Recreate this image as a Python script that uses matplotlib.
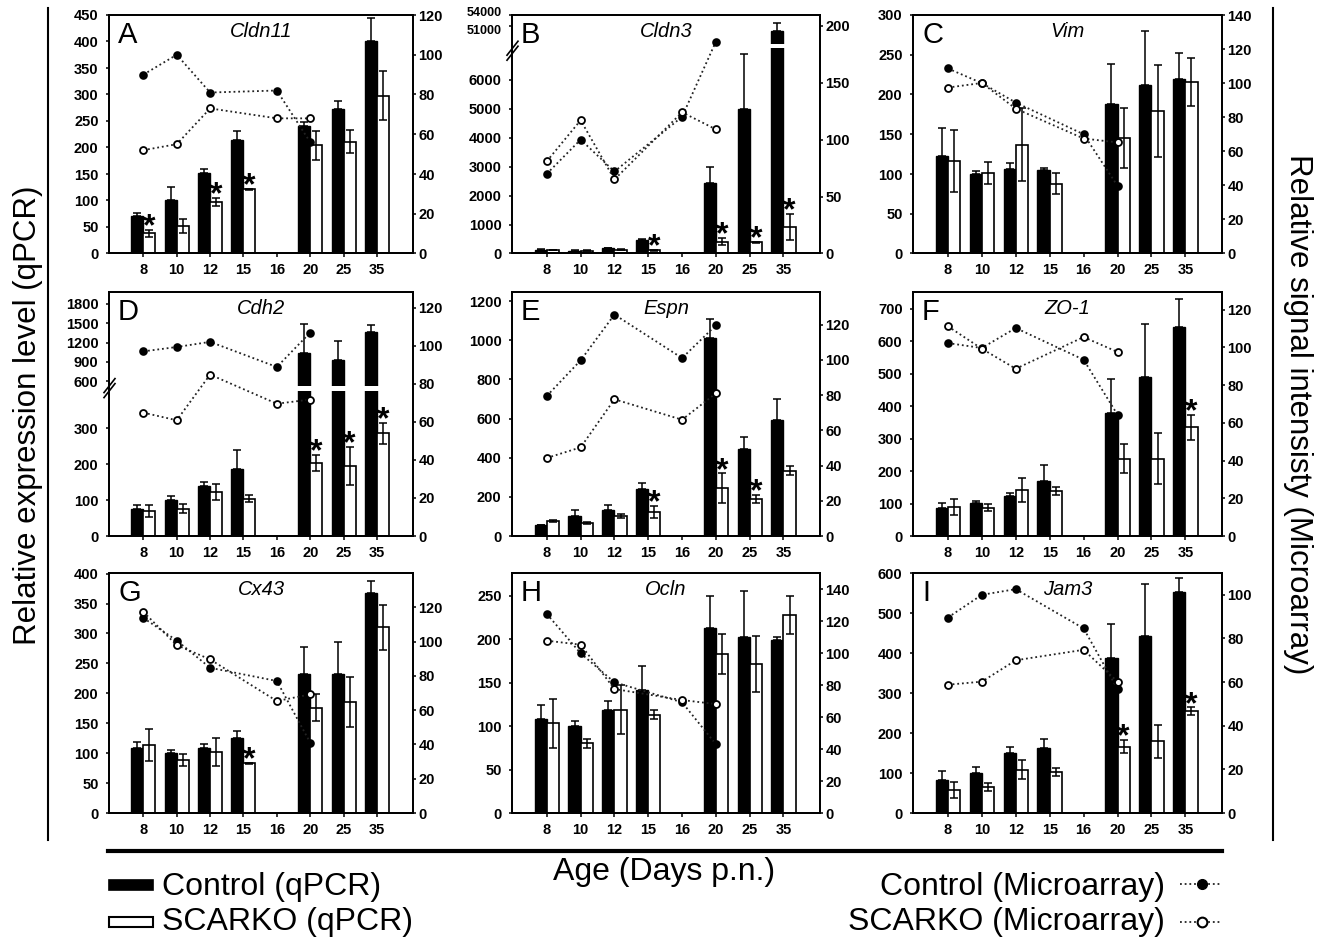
import numpy as np
import matplotlib
matplotlib.use("Agg")
import matplotlib.pyplot as plt
import matplotlib.transforms as mtransforms
from matplotlib.patches import Rectangle
from matplotlib.lines import Line2D

plt.rcParams['font.family'] = ['Liberation Sans', 'DejaVu Sans']

W, H = 1321, 938
N = np.nan

# ---------------- data ----------------
days = ["8", "10", "12", "15", "16", "20", "25", "35"]
array_days = ["8", "10", "12", "16", "20"]

# A Cldn11
cldn11_ctrl = [70, 100, 152, 215, N, 240, 272, 400]
cldn11_ctrl_err = [7, 25, 8, 16, N, 8, 16, 44]
cldn11_ko = [38, 52, 97, 121, N, 204, 211, 298]
cldn11_ko_err = [7, 13, 8, 1, N, 27, 22, 46]
cldn11_sig = [1, 0, 1, 1, 0, 0, 0, 0]
cldn11_arr_ctrl = [90, 100, 81, 82, 56]
cldn11_arr_ko = [52, 55, 73, 68, 68]

# B Cldn3
cldn3_ctrl = [130, 100, 180, 450, N, 2450, 4980, 49600]
cldn3_ctrl_err = [20, 15, 20, 60, N, 530, 1900, 2200]
cldn3_ko = [120, 100, 130, 110, N, 410, 380, 920]
cldn3_ko_err = [15, 10, 15, 10, N, 120, 30, 450]
cldn3_sig = [0, 0, 0, 1, 0, 1, 1, 1]
cldn3_arr_ctrl = [70, 100, 72, 120, 186]
cldn3_arr_ko = [81, 117, 65, 124, 109]

# C Vim
vim_ctrl = [123, 100, 106, 105, N, 188, 212, 220]
vim_ctrl_err = [35, 4, 8, 3, N, 50, 68, 32]
vim_ko = [116, 101, 137, 88, N, 145, 179, 216]
vim_ko_err = [39, 14, 46, 13, N, 38, 58, 30]
vim_sig = [0, 0, 0, 0, 0, 0, 0, 0]
vim_arr_ctrl = [108.6, 100, 88.6, 70, 39.7]
vim_arr_ko = [97.4, 100.1, 85, 67.5, 65.2]

# D Cdh2
cdh2_ctrl = [76, 101, 139, 185, N, 1040, 935, 1370]
cdh2_ctrl_err = [11, 10, 11, 53, N, 440, 290, 100]
cdh2_ko = [69, 76, 122, 104, N, 204, 194, 285]
cdh2_ko_err = [16, 13, 23, 9, N, 22, 53, 30]
cdh2_sig = [0, 0, 0, 0, 0, 1, 1, 1]
cdh2_arr_ctrl = [97, 99.3, 102, 88.8, 106.9]
cdh2_arr_ko = [64.8, 60.8, 84.8, 69.5, 71.7]

# E Espn
espn_ctrl = [55, 100, 134, 241, N, 1010, 445, 594]
espn_ctrl_err = [3, 34, 26, 31, N, 100, 63, 105]
espn_ko = [76, 66, 102, 122, N, 245, 190, 334]
espn_ko_err = [6, 3, 10, 32, N, 75, 20, 22]
espn_sig = [0, 0, 0, 1, 0, 1, 1, 0]
espn_arr_ctrl = [79.5, 99.7, 125.7, 101, 119.6]
espn_arr_ko = [44.3, 50.3, 77.6, 66, 81]

# F ZO-1
zo1_ctrl = [87, 102, 122, 169, N, 380, 490, 642]
zo1_ctrl_err = [16, 6, 11, 49, N, 104, 164, 86]
zo1_ko = [89, 87, 141, 138, N, 238, 238, 334]
zo1_ko_err = [25, 10, 36, 13, N, 44, 78, 38]
zo1_sig = [0, 0, 0, 0, 0, 0, 0, 1]
zo1_arr_ctrl = [102.3, 99.7, 110.3, 93.5, 64.3]
zo1_arr_ko = [111.2, 99.3, 88.7, 105.5, 97.6]

# G Cx43
cx43_ctrl = [108, 100, 108, 126, N, 232, 232, 367]
cx43_ctrl_err = [11, 5, 7, 11, N, 45, 54, 20]
cx43_ko = [114, 89, 102, 83, N, 176, 185, 310]
cx43_ko_err = [27, 10, 23, 1, N, 23, 42, 37]
cx43_sig = [0, 0, 0, 1, 0, 0, 0, 0]
cx43_arr_ctrl = [113.8, 100.6, 84.7, 77, 41]
cx43_arr_ko = [117.3, 97.9, 89.6, 65.3, 69.2]

# H Ocln
ocln_ctrl = [108, 100, 119, 142, N, 213, 202, 199]
ocln_ctrl_err = [16, 6, 10, 27, N, 36, 53, 3]
ocln_ko = [103, 80, 119, 113, N, 183, 171, 228]
ocln_ko_err = [28, 5, 28, 5, N, 23, 32, 22]
ocln_sig = [0, 0, 0, 0, 0, 0, 0, 0]
ocln_arr_ctrl = [124.4, 99.8, 81.7, 69.2, 43]
ocln_arr_ko = [107.7, 105.2, 77.5, 70.6, 68.1]

# I Jam3
jam3_ctrl = [83, 100, 149, 162, N, 387, 442, 552]
jam3_ctrl_err = [21, 14, 15, 23, N, 85, 130, 35]
jam3_ko = [57, 64, 108, 102, N, 166, 179, 254]
jam3_ko_err = [20, 10, 24, 10, N, 17, 41, 10]
jam3_sig = [0, 0, 0, 0, 0, 1, 0, 1]
jam3_arr_ctrl = [89.6, 100, 102.6, 84.6, 56.8]
jam3_arr_ko = [58.8, 60.2, 70, 74.8, 60.2]

# ---------------- layout ----------------
fig = plt.figure(figsize=(W / 100, H / 100), dpi=100)


def fx(x):
    return x / W


def fy(y):
    return 1 - y / H


def make_break(lo, mid_hi, gap, factor):
    def fwd(y):
        y = np.asarray(y, float)
        return np.where(y <= lo, y,
                        np.where(y <= mid_hi, lo + (y - lo) * gap / (mid_hi - lo),
                                 lo + gap + (y - mid_hi) * factor))

    def inv(t):
        t = np.asarray(t, float)
        return np.where(t <= lo, t,
                        np.where(t <= lo + gap, lo + (t - lo) * (mid_hi - lo) / gap,
                                 mid_hi + (t - lo - gap) / factor))
    return fwd, inv


cols = [(109, 413), (512, 820), (913, 1222)]
rows = [(15, 253.5), (292, 536), (573, 813)]

panels = [
    dict(letter="A", gene="Cldn11", d=(cldn11_ctrl, cldn11_ctrl_err, cldn11_ko, cldn11_ko_err, cldn11_sig, cldn11_arr_ctrl, cldn11_arr_ko),
         yl=(0, 450), yt=list(range(0, 451, 50)), yr=(0, 120), yrt=list(range(0, 121, 20))),
    dict(letter="B", gene="Cldn3", d=(cldn3_ctrl, cldn3_ctrl_err, cldn3_ko, cldn3_ko_err, cldn3_sig, cldn3_arr_ctrl, cldn3_arr_ko),
         yl=(0, 54000), yt=[0, 1000, 2000, 3000, 4000, 5000, 6000, 51000, 54000], yr=(0, 209.4), yrt=list(range(0, 201, 50)),
         brk=(7000, 44000, 7, 0.123), band=(44800, 45900)),
    dict(letter="C", gene="Vim", d=(vim_ctrl, vim_ctrl_err, vim_ko, vim_ko_err, vim_sig, vim_arr_ctrl, vim_arr_ko),
         yl=(0, 300), yt=list(range(0, 301, 50)), yr=(0, 140), yrt=list(range(0, 141, 20))),
    dict(letter="D", gene="Cdh2", d=(cdh2_ctrl, cdh2_ctrl_err, cdh2_ko, cdh2_ko_err, cdh2_sig, cdh2_arr_ctrl, cdh2_arr_ko),
         yl=(0, 1980), yt=[0, 100, 200, 300, 600, 900, 1200, 1500, 1800], yr=(0, 128.2), yrt=list(range(0, 121, 20)),
         brk=(410, 502, 2, 0.18), band=(402, 530)),
    dict(letter="E", gene="Espn", d=(espn_ctrl, espn_ctrl_err, espn_ko, espn_ko_err, espn_sig, espn_arr_ctrl, espn_arr_ko),
         yl=(0, 1247), yt=list(range(0, 1201, 200)), yr=(0, 138.5), yrt=list(range(0, 121, 20))),
    dict(letter="F", gene="ZO-1", d=(zo1_ctrl, zo1_ctrl_err, zo1_ko, zo1_ko_err, zo1_sig, zo1_arr_ctrl, zo1_arr_ko),
         yl=(0, 751), yt=list(range(0, 701, 100)), yr=(0, 129.4), yrt=list(range(0, 121, 20))),
    dict(letter="G", gene="Cx43", d=(cx43_ctrl, cx43_ctrl_err, cx43_ko, cx43_ko_err, cx43_sig, cx43_arr_ctrl, cx43_arr_ko),
         yl=(0, 401), yt=list(range(0, 401, 50)), yr=(0, 140), yrt=list(range(0, 121, 20))),
    dict(letter="H", gene="Ocln", d=(ocln_ctrl, ocln_ctrl_err, ocln_ko, ocln_ko_err, ocln_sig, ocln_arr_ctrl, ocln_arr_ko),
         yl=(0, 276), yt=list(range(0, 251, 50)), yr=(0, 150), yrt=list(range(0, 141, 20))),
    dict(letter="I", gene="Jam3", d=(jam3_ctrl, jam3_ctrl_err, jam3_ko, jam3_ko_err, jam3_sig, jam3_arr_ctrl, jam3_arr_ko),
         yl=(0, 600), yt=list(range(0, 601, 100)), yr=(0, 110), yrt=list(range(0, 101, 20))),
]

x = np.arange(len(days))
xa = np.array([days.index(d) for d in array_days])
bw = 0.36
SP = 1.3
TICK_FS = 10.5
DOT = (0, (1, 1.6))

for k, p in enumerate(panels):
    l, r = cols[k % 3]
    t, b = rows[k // 3]
    ax = fig.add_axes([fx(l), fy(b), (r - l) / W, (b - t) / H])
    ctrl, ctrl_err, ko, ko_err, sig, actrl, ako = [np.array(v, float) for v in p["d"]]

    if "brk" in p:
        fwd, inv = make_break(*p["brk"])
        ax.set_yscale("function", functions=(fwd, inv))

    ax.bar(x - bw / 2, ctrl, bw, color="black", edgecolor="black", linewidth=1.0, zorder=2)
    ax.bar(x + bw / 2, ko, bw, color="white", edgecolor="black", linewidth=1.2, zorder=2)
    ax.errorbar(x - bw / 2, ctrl, yerr=[np.zeros_like(ctrl_err), ctrl_err], fmt="none",
                ecolor="black", elinewidth=1.1, capsize=3, capthick=1.1, zorder=2.1)
    ax.errorbar(x + bw / 2, ko, yerr=ko_err, fmt="none",
                ecolor="black", elinewidth=1.1, capsize=3, capthick=1.1, zorder=2.1)

    if "band" in p:
        ax.axhspan(p["band"][0], p["band"][1], color="white", zorder=2.3, lw=0)

    for i in range(len(days)):
        if sig[i]:
            ax.annotate("*", xy=(x[i] + bw / 2, ko[i] + ko_err[i]), xytext=(0, -4),
                        textcoords="offset points", ha="center", va="baseline",
                        fontsize=23, fontweight="bold", zorder=4)

    ax.set_xlim(-1.03, 8.08)
    ax.set_ylim(*p["yl"])
    ax.set_xticks(x, labels=days, fontweight="bold", fontsize=TICK_FS)
    ax.set_yticks(p["yt"], labels=[str(v) for v in p["yt"]], fontweight="bold", fontsize=TICK_FS)
    ax.minorticks_off()
    ax.tick_params(axis="x", direction="out", length=3, width=1.1, pad=4)
    ax.tick_params(axis="y", direction="out", length=2.5, width=1.1, pad=5)
    for s in ax.spines.values():
        s.set_linewidth(SP)

    if p["letter"] == "B":
        # the two upper labels above the break sit very close: shrink and nudge them apart
        labs = ax.get_yticklabels()
        for lab, dy in ((labs[-2], -2.5), (labs[-1], 2.5)):
            lab.set_fontsize(9)
            lab.set_transform(lab.get_transform() +
                              mtransforms.ScaledTranslation(0, dy / 72, fig.dpi_scale_trans))

    ax2 = ax.twinx()
    ax2.plot(xa, actrl, linestyle=DOT, color="#222222", lw=1.3, marker="o", ms=5,
             mfc="black", mec="black", mew=1.2, zorder=3)
    ax2.plot(xa, ako, linestyle=DOT, color="#222222", lw=1.3, marker="o", ms=5,
             mfc="white", mec="black", mew=1.3, zorder=3)
    ax2.set_ylim(*p["yr"])
    ax2.set_yticks(p["yrt"], labels=[str(v) for v in p["yrt"]], fontweight="bold", fontsize=TICK_FS)
    ax2.tick_params(axis="y", direction="out", length=2.5, width=1.1, pad=1.5)
    for s in ax2.spines.values():
        s.set_linewidth(SP)

    hpx = b - t
    ax.text(9 / (r - l), 1 - 28 / hpx, p["letter"], transform=ax.transAxes,
            fontsize=21, ha="left", va="baseline", zorder=5)
    ax.text(0.5, 1 - 22 / hpx, p["gene"], transform=ax.transAxes, fontsize=14.5,
            style="italic", ha="center", va="baseline", zorder=5)

    if "brk" in p:
        lo_t = fwd(p["yl"][0])
        hi_t = fwd(p["yl"][1])
        yb = float((fwd(p["brk"][0]) + p["brk"][2] / 2 - lo_t) / (hi_t - lo_t))
        wpx, hp = r - l, b - t
        for off in (-2.5, 2.5):
            ax.plot([-5 / wpx, 6 / wpx], [yb + (off - 7) / hp, yb + (off + 7) / hp],
                    transform=ax.transAxes, color="black", lw=1.2, clip_on=False, zorder=6)

# ---------------- frame, labels, legend ----------------
fig.add_artist(Line2D([fx(48), fx(48)], [fy(8), fy(840)], color="black", lw=1.5))
fig.add_artist(Line2D([fx(1273), fx(1273)], [fy(8), fy(840)], color="black", lw=1.5))
fig.add_artist(Line2D([fx(108), fx(1222)], [fy(851), fy(851)], color="black", lw=3))

fig.text(fx(28), fy(415), "Relative expression level (qPCR)", rotation=90,
         ha="center", va="center", fontsize=22.5)
fig.text(fx(1298), fy(414), "Relative signal intensisty (Microarray)", rotation=-90,
         ha="center", va="center", fontsize=22.5)

fig.text(fx(664), fy(880), "Age (Days p.n.)", ha="center", va="baseline", fontsize=23)

fig.add_artist(Rectangle((fx(109), fy(890)), (153 - 109) / W, 10 / H, facecolor="black",
                         edgecolor="black", lw=1.2, transform=fig.transFigure))
fig.add_artist(Rectangle((fx(109), fy(927)), (153 - 109) / W, 10 / H, facecolor="white",
                         edgecolor="black", lw=1.5, transform=fig.transFigure))
fig.text(fx(162), fy(895), "Control (qPCR)", ha="left", va="baseline", fontsize=23)
fig.text(fx(162), fy(930), "SCARKO (qPCR)", ha="left", va="baseline", fontsize=23)

fig.text(fx(1165), fy(895), "Control (Microarray)", ha="right", va="baseline", fontsize=23)
fig.text(fx(1165), fy(930), "SCARKO (Microarray)", ha="right", va="baseline", fontsize=23)
fig.add_artist(Line2D([fx(1180), fx(1202), fx(1222)], [fy(884)] * 3, linestyle=DOT, color="#222222",
                      lw=1.3, marker="o", markevery=[1], ms=7, mfc="black", mec="black"))
fig.add_artist(Line2D([fx(1180), fx(1202), fx(1222)], [fy(922)] * 3, linestyle=DOT, color="#222222",
                      lw=1.3, marker="o", markevery=[1], ms=7, mfc="white", mec="black", mew=1.5))

fig.savefig("out.png", dpi=100)
